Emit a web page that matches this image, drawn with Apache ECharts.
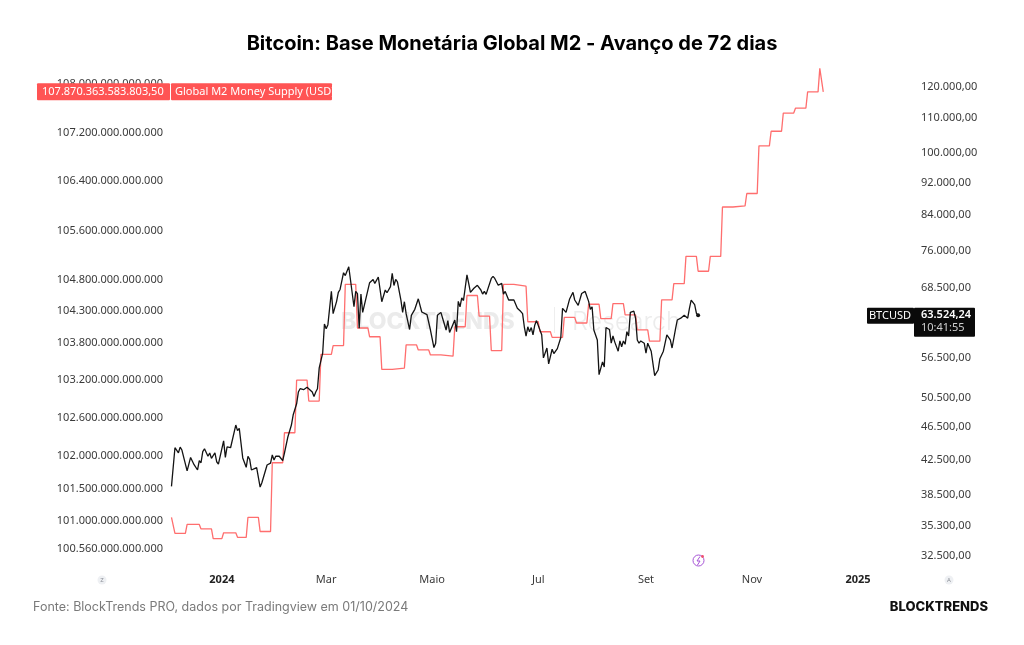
<!DOCTYPE html>
<html>
<head>
<meta charset="utf-8">
<style>html,body{margin:0;padding:0;background:#fff}#chart{width:1024px;height:645px}</style>
<script src="https://cdn.jsdelivr.net/npm/echarts@6/dist/echarts.min.js"></script>
</head>
<body>
<div id="chart"></div>
<script>
// Days are counted from 1 Jan 2024.
const btcDays = [-29,-27,-25,-24,-23,-22,-20,-19,-18,-17,-16,-15,-14,-13,-12,-11,-10,-9,-8,-7,-6,-4,-3,-2,-1,1,2,3,5,6,8,9,10,11,12,13,14,15,16,17,18,20,22,23,24,26,28,29,30,31,33,35,36,38,40,41,43,
44,45,47,48,49,50,52,53,54,55,56,58,59,60,61,62,63,64,66,67,68,70,71,73,74,76,77,78,79,80,81,82,85,86,87,88,90,92,93,94,95,97,98,99,100,101,103,104,105,106,107,108,109,110,111,112,113,114,115,116,118,119,120,122,123,124,126,127,129,130,131,132,134,135,136,137,138,139,141,142,143,145,146,147,149,150,151,152,153,155,156,157,159,160,
161,162,163,165,166,168,170,172,173,174,175,176,177,178,179,180,181,182,184,185,186,187,188,190,191,193,195,196,197,198,200,202,203,205,207,209,211,212,213,214,216,217,219,220,221,223,224,225,226,228,229,230,231,232,233,234,235,237,238,239,240,241,243,244,245,247,248,249,251,252,254,255,256,258,259,261,262,264,266,267,268,269,270,271,272,273,274];
const btcPrices = [39450,43930,43320,44000,43650,43650,41180,41370,42760,42840,41900,42080,41290,42370,42130,43450,43800,43560,42900,43290,42650,43320,42250,41980,42080,44770,42760,44050,43930,43800,46800,46070,46380,46160,42700,42530,41600,42900,42530,41290,41490,41570,39370,39850,39850,41870,42080,43050,42450,42900,42900,42370,43290,45300,46800,48120,49650,
51300,51780,51640,51600,51980,52060,51300,50650,51300,51780,54870,57190,62000,61190,61900,62110,67900,63820,66050,67730,68270,71530,70970,72730,70090,65060,67900,67500,61300,67400,64050,63920,69570,69650,70200,69430,70680,65980,66270,68170,67650,68800,71410,69040,70200,69750,66270,64050,65980,63820,63520,61060,63520,63820,64600,64780,66520,66300,64120,64050,63650,63820,60980,58080,58780,63520,64050,63020,60980,62600,60570,60700,62700,60700,66050,65060,66700,66200,71100,69430,67730,68500,68330,69070,68170,67400,67900,67340,67400,70400,70800,70400,69070,69070,
69430,67400,67900,66300,66050,66300,64780,64200,63820,61530,59970,61530,60700,61400,60170,61800,62600,62430,60170,56430,56200,58000,55500,57800,57100,57900,59720,64780,64600,64050,66420,67730,66300,65300,67500,67900,66050,64600,65060,60980,59310,53850,55800,55000,61400,61060,58780,59970,59000,57480,59150,58200,59150,58600,60700,59970,64050,64260,63020,59310,58780,59150,58780,57190,58780,57480,57190,53700,54550,56300,57480,57480,60170,59310,58000,61190,62700,63020,63520,63820,63020,64780,66270,66270,65430,63900,63524.24];

// Global M2 in trillions of USD, shifted forward by 72 days.
const m2Days = [-29,-28,-27,-21,-20,-13,-12,-6,-5,0,1,8,9,14,15,21,22,28,29,35,36,42,43,49,50,56,57,63,64,70,71,77,78,84,85,91,92,98,99,105,106,112,113,119,120,126,127,133,134,140,141,147,148,154,155,161,162,168,169,175,176,182,183,189,190,196,197,203,204,210,211,217,218,224,225,231,232,238,239,245,246,252,253,259,260,266,267,273,274,280,281,287,288,294,295,301,302,308,309,315,316,322,323,329,330,336,337,343,344,345,346];
const m2Trillions = [101.05,101.05,100.80,100.80,100.94,100.94,100.87,100.87,100.72,100.72,100.81,100.81,100.74,100.74,101.05,101.05,100.83,100.83,101.90,101.90,102.37,102.37,103.20,103.20,102.87,102.87,103.61,103.61,103.75,103.75,104.73,104.73,104.03,104.03,103.89,103.89,103.37,103.37,103.39,103.39,103.76,103.76,103.68,103.68,103.60,103.60,103.58,103.58,104.05,104.05,104.55,104.55,104.22,104.22,103.67,103.67,104.73,104.73,104.70,104.70,104.13,104.13,103.97,103.97,103.88,103.88,104.20,104.20,104.11,104.11,104.41,104.41,104.18,104.18,104.42,104.42,104.24,104.24,104.00,104.00,103.82,103.82,104.48,104.48,104.74,104.74,105.18,105.18,104.94,104.94,105.18,105.18,105.98,105.98,106.00,106.00,106.20,106.20,106.98,106.98,107.22,107.22,107.52,107.52,107.60,107.60,107.87,107.87,108.26,108.26,107.8703635838035];

const leftTicks = [100.56,101,101.5,102,102.6,103.2,103.8,104.3,104.8,105.6,106.4,107.2,108];
const rightTicks = [32500,35300,38500,42500,46500,50500,56500,68500,76000,84000,92000,100000,110000,120000];
const monthDays = [0,60,121,182,244,305,366];
const monthNames = ['2024','Mar','Maio','Jul','Set','Nov','2025'];

const btcData = btcDays.map((d, i) => [d, btcPrices[i]]);
const m2Data = m2Days.map((d, i) => [d, m2Trillions[i]]);
const lastBtc = btcData[btcData.length - 1];
const lastM2 = m2Data[m2Data.length - 1];

const thousands = s => s.replace(/\B(?=(\d{3})+(?!\d))/g, '.');
const leftLabel = v => thousands(String(Math.round(v * 100) * 10000000000));
const rightLabel = v => thousands(String(Math.round(v))) + ',00';

const tickFont = {color: '#3a3a3a', fontFamily: '"Noto Sans"', fontSize: 11};
const chart = echarts.init(document.getElementById('chart'), null, {renderer: 'canvas'});

chart.setOption({
  animation: false,
  backgroundColor: '#ffffff',
  title: {
    text: 'Bitcoin: Base Monetária Global M2 - Avanço de 72 dias',
    left: 'center', top: 29,
    textStyle: {fontFamily: 'Inter', fontWeight: 700, fontSize: 20, color: '#000'}
  },
  grid: {left: 168, right: 106, top: 60, bottom: 75},
  xAxis: {
    type: 'value', min: -31, max: 400.5,
    axisLine: {show: false}, axisTick: {show: false}, splitLine: {show: false},
    axisLabel: {
      customValues: monthDays, margin: 4,
      ...tickFont,
      formatter: v => {
        const name = monthNames[monthDays.indexOf(v)];
        return /^20/.test(name) ? '{year|' + name + '}' : name;
      },
      rich: {year: {fontFamily: '"Noto Sans"', fontSize: 11, fontWeight: 700, color: '#222'}}
    }
  },
  yAxis: [
    {
      type: 'log', position: 'left', min: 100.236, max: 108.399,
      axisLine: {show: false}, axisTick: {show: false}, splitLine: {show: false},
      axisLabel: {customValues: leftTicks, margin: 5, ...tickFont, formatter: leftLabel}
    },
    {
      type: 'log', position: 'right', min: 31250, max: 129374,
      axisLine: {show: false}, axisTick: {show: false}, splitLine: {show: false},
      axisLabel: {customValues: rightTicks, margin: 3, ...tickFont, formatter: rightLabel}
    }
  ],
  series: [
    {
      name: 'Global M2 Money Supply (USD)', type: 'line', yAxisIndex: 0,
      data: m2Data, showSymbol: false, silent: true,
      lineStyle: {color: '#ff6e6e', width: 1.3}, z: 3
    },
    {
      name: 'BTCUSD', type: 'line', yAxisIndex: 1,
      data: btcData, showSymbol: false, silent: true,
      lineStyle: {color: '#131313', width: 1.3}, z: 4,
      markPoint: {
        silent: true, symbol: 'circle', symbolSize: 4, label: {show: false},
        itemStyle: {color: '#131313'},
        data: [{coord: lastBtc}]
      }
    }
  ]
});

// Value tags follow the last point of each series.
const m2Y = chart.convertToPixel({yAxisIndex: 0}, lastM2[1]);
const btcY = chart.convertToPixel({yAxisIndex: 1}, lastBtc[1]);

const tagText = (x, y, text, fill, size, align, extra) => ({
  type: 'text', x, y, z: 101,
  style: Object.assign({text, fill, fontFamily: '"Noto Sans"', fontSize: size, textAlign: align, textVerticalAlign: 'middle'}, extra || {})
});
const box = (x, y, w, h, fill, z) => ({type: 'rect', shape: {x, y, width: w, height: h, r: 1}, z: z || 100, style: {fill}});

chart.setOption({
  graphic: [
    // Faint brand mark behind the lines
    {type: 'text', x: 341, y: 322, z: 0, style: {text: 'BLOCKTRENDS', fill: '#ebebeb', fontFamily: 'Inter', fontWeight: 800, fontSize: 23, textVerticalAlign: 'middle'}},
    {type: 'rect', shape: {x: 554, y: 307, width: 1, height: 26}, z: 0, style: {fill: '#eeeeee'}},
    {type: 'text', x: 572, y: 322, z: 0, style: {text: 'Research', fill: '#ececec', fontFamily: 'Inter', fontWeight: 300, fontSize: 25, textVerticalAlign: 'middle'}},

    // Series tag on the left scale
    box(37, m2Y - 8.5, 133, 17, '#ff5454'),
    box(171, m2Y - 8.5, 161, 17, '#ff5454'),
    tagText(42, m2Y, '107.870.363.583.803,50', '#ffffff', 11, 'left'),
    tagText(175, m2Y, 'Global M2 Money Supply (USD)', '#ffffff', 11, 'left'),

    // Series tag on the right scale
    box(867, btcY - 7.5, 47, 16, '#0a0a0a'),
    box(914, btcY - 7.5, 61, 29, '#0a0a0a'),
    tagText(890, btcY + 0.5, 'BTCUSD', '#ffffff', 11, 'center'),
    tagText(921, btcY, '63.524,24', '#ffffff', 11, 'left', {fontWeight: 600}),
    tagText(921, btcY + 13, '10:41:55', '#cfcfcf', 11, 'left'),

    // Small scale buttons and the lightning badge
    {type: 'circle', shape: {cx: 102, cy: 580, r: 4.5}, style: {fill: '#eef0f3'}},
    {type: 'text', x: 102, y: 580, style: {text: 'Z', fill: '#8a8e96', fontFamily: '"Noto Sans"', fontSize: 6, textAlign: 'center', textVerticalAlign: 'middle'}},
    {type: 'circle', shape: {cx: 949, cy: 580, r: 4.5}, style: {fill: '#eef0f3'}},
    {type: 'text', x: 949, y: 580, style: {text: 'A', fill: '#8a8e96', fontFamily: '"Noto Sans"', fontSize: 6, textAlign: 'center', textVerticalAlign: 'middle'}},
    {type: 'circle', shape: {cx: 698.5, cy: 560.5, r: 5.5}, style: {fill: 'none', stroke: '#a653d6', lineWidth: 1}},
    {type: 'polyline', shape: {points: [[700, 556.5], [697, 561], [700, 561], [697.5, 565]]}, style: {fill: 'none', stroke: '#a653d6', lineWidth: 1}},
    {type: 'circle', shape: {cx: 702.5, cy: 556.5, r: 1.4}, style: {fill: '#f0506e'}},

    // Footer
    {type: 'text', x: 33, y: 607, style: {text: 'Fonte: BlockTrends PRO, dados por Tradingview em 01/10/2024', fill: '#7a7a7a', fontFamily: 'Inter', fontSize: 12.5, textVerticalAlign: 'middle'}},
    {type: 'text', x: 988, y: 607, style: {text: 'BLOCKTRENDS', fill: '#111111', fontFamily: 'Inter', fontWeight: 800, fontSize: 13, textAlign: 'right', textVerticalAlign: 'middle'}}
  ]
});
</script>
</body>
</html>
